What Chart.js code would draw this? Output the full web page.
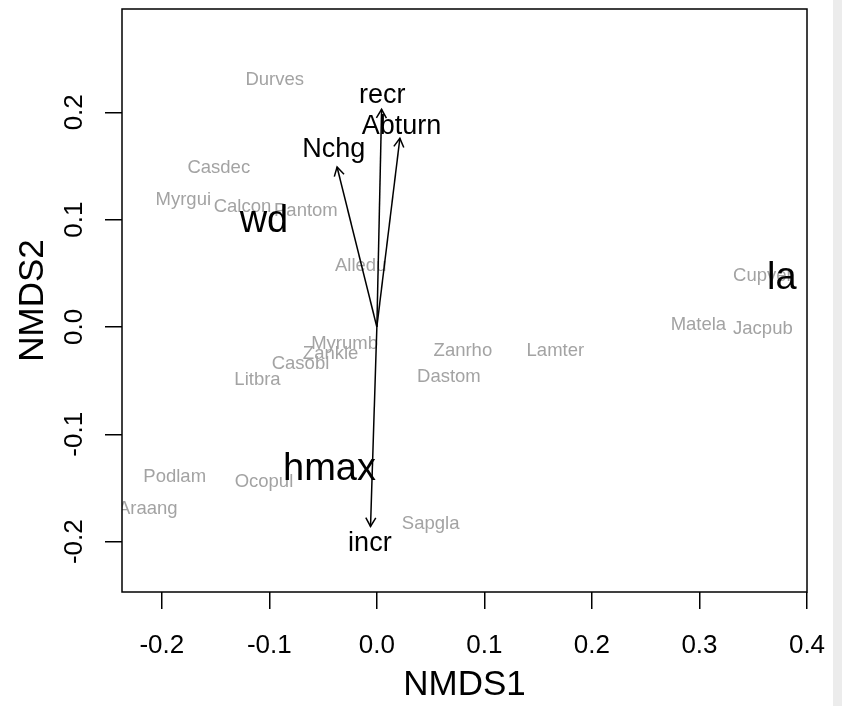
<!DOCTYPE html>
<html>
<head>
<meta charset="utf-8">
<script src="https://cdn.jsdelivr.net/npm/chart.js@4.4.1/dist/chart.umd.min.js"></script>
<style>
  html, body { margin: 0; padding: 0; background: #ffffff; overflow: hidden; }
  canvas { display: block; }
</style>
</head>
<body>
<canvas id="c" width="842" height="706"></canvas>
<script>
// ---- data ----
const speciesNames = ["Durves","Casdec","Myrgui","Calcon","Pantom","Alledu","Cupver","Matela","Jacpub","Zanrho","Lamter","Dastom","Myrumb","Zankle","Casobl","Litbra","Podlam","Ocopul","Araang","Sapgla"];
const speciesX = [-0.095, -0.147, -0.180, -0.125, -0.066, -0.015, 0.359, 0.299, 0.359, 0.080, 0.166, 0.067, -0.030, -0.043, -0.071, -0.111, -0.188, -0.105, -0.213, 0.050];
const speciesY = [0.232, 0.150, 0.120, 0.113, 0.110, 0.058, 0.049, 0.003, 0.000, -0.021, -0.021, -0.045, -0.014, -0.024, -0.033, -0.048, -0.138, -0.143, -0.168, -0.182];

const vectorNames = ["recr","Abturn","Nchg","incr"];
const vectorX = [0.0044, 0.0214, -0.0370, -0.0059];
const vectorY = [0.2027, 0.1757, 0.1490, -0.1858];
const vectorLabelX = [0.0050, 0.0230, -0.0400, -0.0065];
const vectorLabelY = [0.2180, 0.1890, 0.1670, -0.2000];

const factorNames = ["wd","hmax","la"];
const factorX = [-0.105, -0.044, 0.3765];
const factorY = [0.101, -0.130, 0.0485];

const xTicks = [-0.2, -0.1, 0.0, 0.1, 0.2, 0.3, 0.4];
const xTickLabels = ["-0.2","-0.1","0.0","0.1","0.2","0.3","0.4"];
const yTicks = [-0.2, -0.1, 0.0, 0.1, 0.2];
const yTickLabels = ["-0.2","-0.1","0.0","0.1","0.2"];
const xTitle = "NMDS1";
const yTitle = "NMDS2";
const xMin = -0.237, xMax = 0.400;
const yMin = -0.2469, yMax = 0.2962;

// ---- styles ----
const FONT = '"Liberation Sans", Arial, Helvetica, sans-serif';
const font = s => s + 'px ' + FONT;

function drawCentered(ctx, text, px, py, size, color) {
  ctx.font = font(size);
  ctx.fillStyle = color;
  ctx.textAlign = 'center';
  ctx.textBaseline = 'alphabetic';
  ctx.fillText(text, px, py + 0.358 * size);
}

const overlay = {
  id: 'overlay',
  beforeDraw(chart) {
    const ctx = chart.ctx;
    ctx.save();
    ctx.fillStyle = '#ffffff';
    ctx.fillRect(0, 0, chart.width, chart.height);
    ctx.fillStyle = '#ececec';
    ctx.fillRect(833, 0, chart.width - 833, chart.height);
    ctx.restore();
  },
  beforeDatasetsDraw(chart) {
    const ctx = chart.ctx, xs = chart.scales.x, ys = chart.scales.y, a = chart.chartArea;
    ctx.save();
    ctx.beginPath();
    ctx.rect(a.left, a.top, a.right - a.left, a.bottom - a.top);
    ctx.clip();
    speciesNames.forEach((n, i) => {
      drawCentered(ctx, n, xs.getPixelForValue(speciesX[i]), ys.getPixelForValue(speciesY[i]), 18.5, '#a3a3a3');
    });
    ctx.restore();
  },
  afterDatasetsDraw(chart) {
    const ctx = chart.ctx, xs = chart.scales.x, ys = chart.scales.y, a = chart.chartArea;
    ctx.save();
    // arrow heads
    const ox = xs.getPixelForValue(0), oy = ys.getPixelForValue(0);
    ctx.strokeStyle = '#000';
    ctx.lineWidth = 1.5;
    vectorNames.forEach((n, i) => {
      const tx = xs.getPixelForValue(vectorX[i]), ty = ys.getPixelForValue(vectorY[i]);
      const ang = Math.atan2(ty - oy, tx - ox);
      const L = 10, h = Math.PI / 6;
      ctx.beginPath();
      ctx.moveTo(tx - L * Math.cos(ang - h), ty - L * Math.sin(ang - h));
      ctx.lineTo(tx, ty);
      ctx.lineTo(tx - L * Math.cos(ang + h), ty - L * Math.sin(ang + h));
      ctx.stroke();
    });
    // vector labels
    vectorNames.forEach((n, i) => {
      drawCentered(ctx, n, xs.getPixelForValue(vectorLabelX[i]), ys.getPixelForValue(vectorLabelY[i]), 27, '#000');
    });
    // factor labels
    factorNames.forEach((n, i) => {
      drawCentered(ctx, n, xs.getPixelForValue(factorX[i]), ys.getPixelForValue(factorY[i]), 38, '#000');
    });
    // box
    ctx.lineWidth = 1.5;
    ctx.strokeStyle = '#000';
    ctx.strokeRect(a.left, a.top, a.right - a.left, a.bottom - a.top);
    // x tick labels
    ctx.fillStyle = '#000';
    ctx.font = font(26);
    ctx.textAlign = 'center';
    ctx.textBaseline = 'alphabetic';
    xTicks.forEach((v, i) => ctx.fillText(xTickLabels[i], xs.getPixelForValue(v), 653));
    // y tick labels (rotated)
    yTicks.forEach((v, i) => {
      ctx.save();
      ctx.translate(82, ys.getPixelForValue(v));
      ctx.rotate(-Math.PI / 2);
      ctx.fillText(yTickLabels[i], 0, 0);
      ctx.restore();
    });
    // axis titles
    ctx.font = font(35);
    ctx.fillText(xTitle, (a.left + a.right) / 2, 695);
    ctx.save();
    ctx.translate(43, (a.top + a.bottom) / 2);
    ctx.rotate(-Math.PI / 2);
    ctx.fillText(yTitle, 0, 0);
    ctx.restore();
    ctx.restore();
  }
};

const datasets = vectorNames.map((n, i) => ({
  label: n,
  data: [{x: 0, y: 0}, {x: vectorX[i], y: vectorY[i]}],
  showLine: true,
  borderColor: '#000',
  borderWidth: 1.5,
  pointRadius: 0,
  pointHoverRadius: 0,
  fill: false
}));

const axisCommon = {
  type: 'linear',
  ticks: { display: false },
  grid: { display: true, drawOnChartArea: false, drawTicks: true, tickLength: 17, color: '#000', lineWidth: 1.5 },
  border: { display: false }
};

new Chart(document.getElementById('c'), {
  type: 'scatter',
  data: { datasets },
  options: {
    responsive: false,
    devicePixelRatio: 1,
    animation: false,
    layout: { padding: { left: 0, right: 35, top: 9, bottom: 0 } },
    plugins: { legend: { display: false }, tooltip: { enabled: false }, title: { display: false } },
    scales: {
      x: Object.assign({}, axisCommon, {
        min: xMin, max: xMax,
        afterBuildTicks: s => { s.ticks = xTicks.map(v => ({ value: v })); },
        afterFit: s => { s.height = 114; }
      }),
      y: Object.assign({}, axisCommon, {
        min: yMin, max: yMax,
        afterBuildTicks: s => { s.ticks = yTicks.map(v => ({ value: v })); },
        afterFit: s => { s.width = 122; }
      })
    }
  },
  plugins: [overlay]
});
</script>
</body>
</html>
